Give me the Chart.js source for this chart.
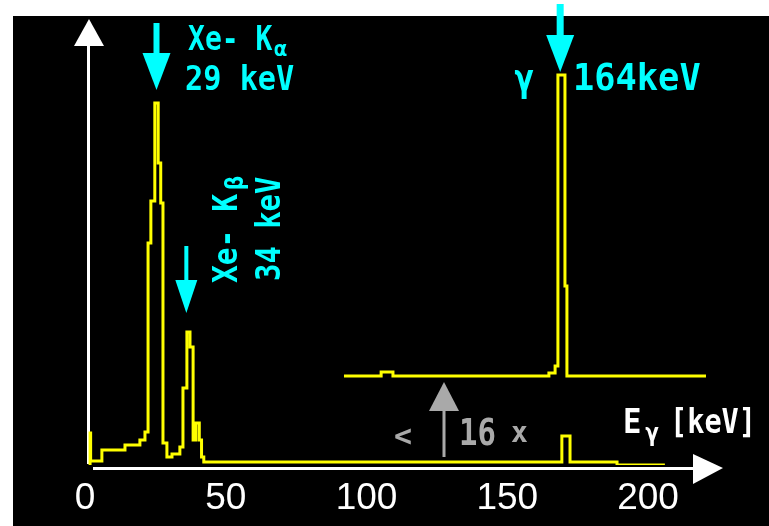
<!DOCTYPE html>
<html>
<head>
<meta charset="utf-8">
<script src="https://cdn.jsdelivr.net/npm/chart.js@4.4.1/dist/chart.umd.min.js"></script>
<style>
  html, body { margin: 0; padding: 0; background: #fff; }
  canvas { display: block; }
</style>
</head>
<body>
<canvas id="spectrum" width="769" height="526"></canvas>
<script>
// lower trace, energy in keV and counts (arbitrary units), step histogram
var mainEnergy = [1.8, 1.8, 2.0, 6.0, 14.2, 19.5, 21.3, 22.4, 23.4, 24.8, 26.0, 26.9, 27.7, 29.1, 30.9, 33.7, 34.8, 36.2, 37.3, 38.4, 39.4, 40.6, 41.4, 42.2, 169.4, 172.3, 189.0, 206.0];
var mainCounts = [0, 8, 1, 3.75, 5, 6.25, 8.25, 55.5, 66, 90.5, 75.5, 65.5, 5.5, 2, 2.75, 4.5, 19.25, 33.25, 29.5, 6.25, 10.5, 6.25, 2, 0.75, 7.25, 0.75, 0, 0];

// upper trace, high energy part magnified (< 16 x)
var zoomEnergy = [92.0, 105.2, 109.4, 164.8, 167.0, 168.0, 170.5, 171.2, 220.6];
var zoomCounts = [22.25, 23.25, 22.25, 23, 24.75, 97.5, 44.75, 22.25, 22.25];

var tickValues = [0, 50, 100, 150, 200];

var yellow = '#ffff00';
var cyan = '#00ffff';
var grey = '#a9a9a9';

function toPoints(xs, ys) {
  var pts = [];
  for (var i = 0; i < xs.length; i++) {
    pts.push({x: xs[i], y: ys[i]});
  }
  return pts;
}

function arrowDown(ctx, x, top, headTop, tip, stemW, headW, color) {
  ctx.fillStyle = color;
  ctx.fillRect(x - stemW / 2, top, stemW, headTop - top + 1);
  ctx.beginPath();
  ctx.moveTo(x - headW / 2, headTop);
  ctx.lineTo(x + headW / 2, headTop);
  ctx.lineTo(x, tip);
  ctx.closePath();
  ctx.fill();
}

function arrowUp(ctx, x, bottom, headBottom, tip, stemW, headW, color) {
  ctx.fillStyle = color;
  ctx.fillRect(x - stemW / 2, headBottom - 1, stemW, bottom - headBottom + 1);
  ctx.beginPath();
  ctx.moveTo(x - headW / 2, headBottom);
  ctx.lineTo(x + headW / 2, headBottom);
  ctx.lineTo(x, tip);
  ctx.closePath();
  ctx.fill();
}

// sx squeezes the glyphs horizontally, the old screen font was narrow
function text(ctx, str, x, y, size, sx, color) {
  ctx.save();
  ctx.translate(x, y);
  ctx.scale(sx, 1);
  ctx.font = 'bold ' + size + 'px ' + mono;
  ctx.fillStyle = color;
  ctx.textAlign = 'left';
  ctx.textBaseline = 'alphabetic';
  ctx.fillText(str, 0, 0);
  ctx.restore();
}

function vtext(ctx, str, x, y, size, sx, color) {
  ctx.save();
  ctx.translate(x, y);
  ctx.rotate(-Math.PI / 2);
  text(ctx, str, 0, 0, size, sx, color);
  ctx.restore();
}

var mono = '"DejaVu Sans Mono", "Liberation Mono", monospace';

var backdrop = {
  id: 'backdrop',
  beforeDraw: function(chart) {
    var ctx = chart.ctx;
    ctx.save();
    ctx.fillStyle = '#fff';
    ctx.fillRect(0, 0, chart.width, chart.height);
    ctx.fillStyle = '#000';
    ctx.fillRect(13, 16, chart.width - 13, chart.height - 16);

    // axes with arrow heads
    ctx.fillStyle = '#fff';
    ctx.fillRect(87, 44, 3, 420);
    ctx.beginPath();
    ctx.moveTo(74, 46); ctx.lineTo(104, 46); ctx.lineTo(89, 19); ctx.closePath();
    ctx.fill();
    ctx.fillRect(93, 467, 602, 3);
    ctx.beginPath();
    ctx.moveTo(693, 454); ctx.lineTo(693, 484); ctx.lineTo(723, 468); ctx.closePath();
    ctx.fill();
    ctx.restore();
  },
  afterDraw: function(chart) {
    var ctx = chart.ctx;
    var x = chart.scales.x;
    ctx.save();

    // K-alpha
    arrowDown(ctx, x.getPixelForValue(25.4), 23, 53, 90, 6, 28, cyan);
    text(ctx, 'Xe- K', 188, 50, 33, 0.85, cyan);
    text(ctx, '\u03b1', 274, 56, 22, 1, cyan);
    text(ctx, '29 keV', 185, 90, 34, 0.89, cyan);

    // K-beta
    arrowDown(ctx, x.getPixelForValue(36.0), 246, 280, 313, 4, 22, cyan);
    vtext(ctx, 'Xe- K', 237, 283, 34, 0.87, cyan);
    vtext(ctx, '\u03b2', 243, 190, 24, 1, cyan);
    vtext(ctx, '34 keV', 280, 281, 34, 0.85, cyan);

    // 164 keV gamma line
    arrowDown(ctx, x.getPixelForValue(168.8), 4, 35, 72, 7, 28, cyan);
    text(ctx, '\u03b3', 514, 91, 38, 0.9, cyan);
    text(ctx, '164keV', 573, 90, 38, 0.93, cyan);

    // magnification note
    arrowUp(ctx, 444, 457, 411, 382, 3, 30, grey);
    text(ctx, '<', 394, 446, 30, 1, grey);
    text(ctx, '16', 459, 445, 37, 0.83, grey);
    text(ctx, 'x', 511, 442, 28, 1, grey);

    // axis title
    text(ctx, 'E', 623, 433, 34, 0.9, '#fff');
    text(ctx, '\u03b3', 645, 441, 24, 1, '#fff');
    text(ctx, '[keV]', 670, 433, 34, 0.84, '#fff');

    ctx.restore();
  }
};

var spectrumChart = new Chart(document.getElementById('spectrum').getContext('2d'), {
  type: 'line',
  data: {
    datasets: [{
      data: toPoints(mainEnergy, mainCounts),
      borderColor: yellow,
      borderWidth: 3,
      stepped: 'before',
      pointRadius: 0,
      fill: false
    }, {
      data: toPoints(zoomEnergy, zoomCounts),
      borderColor: yellow,
      borderWidth: 3,
      stepped: 'before',
      pointRadius: 0,
      fill: false
    }]
  },
  options: {
    responsive: false,
    animation: false,
    devicePixelRatio: 1,
    layout: {
      padding: {left: 85, right: 45, top: 25, bottom: 0}
    },
    plugins: {
      legend: {display: false},
      tooltip: {enabled: false}
    },
    scales: {
      x: {
        type: 'linear',
        min: 0,
        max: 227,
        grid: {display: false},
        border: {display: false},
        afterBuildTicks: function(scale) {
          scale.ticks = tickValues.map(function(v) { return {value: v}; });
        },
        afterFit: function(scale) {
          scale.height = 61;
        },
        ticks: {
          color: '#fff',
          padding: 4,
          maxRotation: 0,
          font: {family: '"Liberation Sans", Arial', size: 37, weight: 'normal'}
        }
      },
      y: {
        display: false,
        min: 0,
        max: 110
      }
    }
  },
  plugins: [backdrop]
});
</script>
</body>
</html>
